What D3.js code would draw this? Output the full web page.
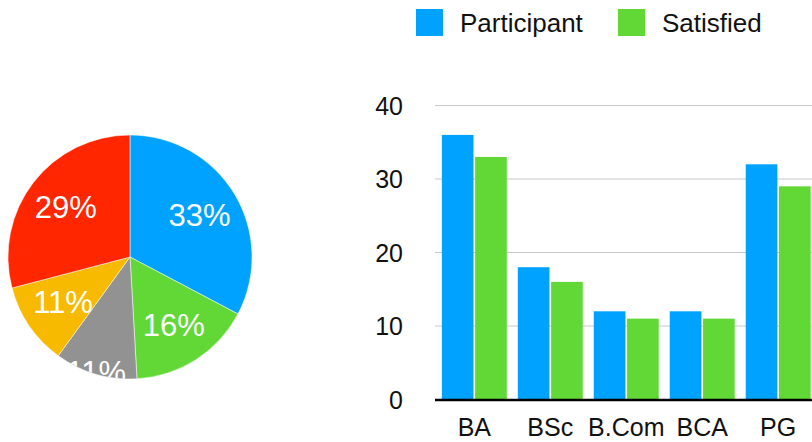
<!DOCTYPE html>
<html>
<head>
<meta charset="utf-8">
<script src="https://cdn.jsdelivr.net/npm/d3@7"></script>
<style>
  html, body { margin: 0; padding: 0; background: #fff; }
  svg { display: block; font-family: "Helvetica Neue", Helvetica, "Liberation Sans", Arial, sans-serif; }
</style>
</head>
<body>
<svg id="chart" width="812" height="442"></svg>
<script>
const categories = ["BA", "BSc", "B.Com", "BCA", "PG"];
const participant = [36, 18, 12, 12, 32];
const satisfied = [33, 16, 11, 11, 29];
const seriesNames = ["Participant", "Satisfied"];
const seriesColors = ["#00A2FF", "#61D836"];
const pieColors = ["#00A2FF", "#61D836", "#929292", "#F8BA00", "#FF2600"];
const yTicks = [0, 10, 20, 30, 40];

const svg = d3.select("#chart");

// ---------- Pie ----------
const cx = 130, cy = 257, r = 122;
const total = d3.sum(participant);
const pieData = categories.map((c, i) => ({ cat: c, value: participant[i], color: pieColors[i] }));
const pie = d3.pie().value(d => d.value).sort(null);
const arcs = pie(pieData);
const arc = d3.arc().innerRadius(0).outerRadius(r);

svg.append("defs").append("clipPath").attr("id", "pieClip")
  .append("circle").attr("cx", 0).attr("cy", 0).attr("r", r);

const pg = svg.append("g").attr("transform", `translate(${cx},${cy})`);
pg.selectAll("path").data(arcs).join("path")
  .attr("d", arc)
  .attr("fill", d => d.data.color)
  .attr("stroke", "#fff")
  .attr("stroke-width", 0.5);

const lg = pg.append("g").attr("clip-path", "url(#pieClip)");
lg.selectAll("text").data(arcs).join("text")
  .attr("transform", d => {
    const a = (d.startAngle + d.endAngle) / 2;
    const lr = d.data.cat === "B.Com" ? r * 0.985 : r * 0.665;
    return `translate(${Math.sin(a) * lr},${-Math.cos(a) * lr})`;
  })
  .attr("text-anchor", "middle")
  .attr("dominant-baseline", "central")
  .attr("fill", "#fff")
  .attr("font-size", 31)
  .text(d => Math.round(d.data.value / total * 100) + "%");

// ---------- Bars ----------
const x0 = d3.scaleBand().domain(categories).range([435, 817.5]).paddingInner(0.145).paddingOuter(0.09);
const x1 = d3.scaleBand().domain(seriesNames).range([0, x0.bandwidth()]).paddingInner(0.05);
const y = d3.scaleLinear().domain([0, 40]).range([399.5, 105.5]);

const bg = svg.append("g");
bg.selectAll("line.grid").data(yTicks.filter(t => t > 0)).join("line")
  .attr("class", "grid")
  .attr("x1", 435).attr("x2", 812)
  .attr("y1", d => y(d)).attr("y2", d => y(d))
  .attr("stroke", "#c8c8c8").attr("stroke-width", 1);

bg.selectAll("text.ytick").data(yTicks).join("text")
  .attr("class", "ytick")
  .attr("x", 403).attr("y", d => y(d))
  .attr("text-anchor", "end")
  .attr("dominant-baseline", "central")
  .attr("font-size", 25)
  .attr("fill", "#111")
  .text(d => d);

const groups = bg.selectAll("g.grp").data(categories).join("g")
  .attr("class", "grp")
  .attr("transform", d => `translate(${x0(d)},0)`);

groups.selectAll("rect").data((d, i) => [
  { s: seriesNames[0], v: participant[i], c: seriesColors[0] },
  { s: seriesNames[1], v: satisfied[i], c: seriesColors[1] }
]).join("rect")
  .attr("x", d => x1(d.s))
  .attr("width", x1.bandwidth())
  .attr("y", d => y(d.v))
  .attr("height", d => y(0) - y(d.v))
  .attr("fill", d => d.c);

bg.append("line")
  .attr("x1", 435).attr("x2", 812)
  .attr("y1", y(0) + 0.5).attr("y2", y(0) + 0.5)
  .attr("stroke", "#000").attr("stroke-width", 2.5);

bg.selectAll("text.xcat").data(categories).join("text")
  .attr("class", "xcat")
  .attr("x", d => x0(d) + x0.bandwidth() / 2)
  .attr("y", 436)
  .attr("text-anchor", "middle")
  .attr("font-size", 25)
  .attr("fill", "#111")
  .text(d => d);

// ---------- Legend ----------
const legendX = [416, 618];
const leg = svg.append("g");
const li = leg.selectAll("g").data(seriesNames).join("g")
  .attr("transform", (d, i) => `translate(${legendX[i]},9)`);
li.append("rect").attr("width", 27).attr("height", 27).attr("fill", (d, i) => seriesColors[i]);
li.append("text").attr("x", 44).attr("y", 13.5)
  .attr("dominant-baseline", "central")
  .attr("font-size", 26).attr("fill", "#111")
  .text(d => d);
</script>
</body>
</html>
